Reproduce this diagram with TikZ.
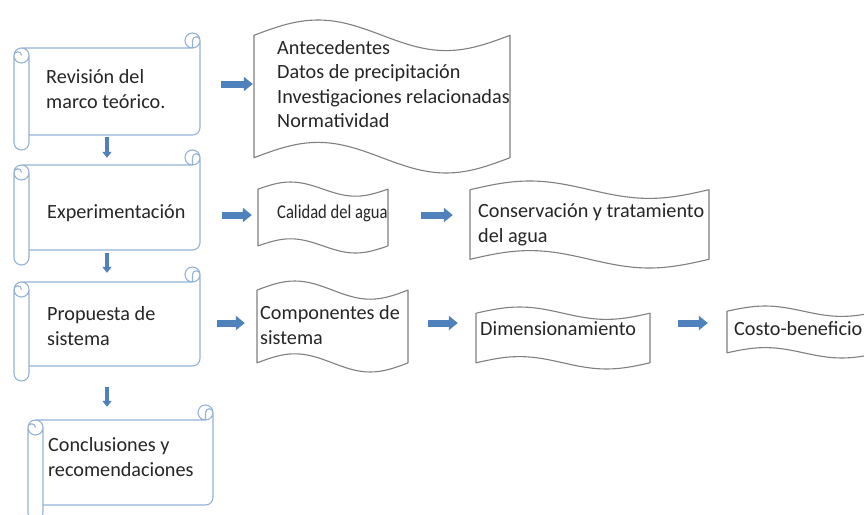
\documentclass[tikz,border=0pt]{standalone}
\usepackage{fontspec}
\setmainfont{Carlito}
\usetikzlibrary{arrows.meta}
\definecolor{arrowblue}{HTML}{4F81BD}
\definecolor{scrollblue}{HTML}{95B3D7}
\definecolor{tapegray}{HTML}{808080}
\definecolor{txtcol}{HTML}{262626}
\tikzset{
  shapebox/.style={draw=none, rectangle, inner sep=0pt},
  scrollline/.style={draw=scrollblue, line width=1.1pt, line join=round},
  tapeline/.style={draw=tapegray, line width=1.1pt, fill=white, line join=round},
  txtnode/.style={anchor=west, inner sep=0pt, align=left, text=txtcol, font=\fontsize{20.2}{24.5}\selectfont},
  rarrow/.style={draw=arrowblue, line width=7pt, -{Triangle[length=9pt,width=14pt]}},
  darrow/.style={draw=arrowblue, line width=3.5pt, -{Triangle[length=6pt,width=9pt]}}
}
% horizontal scroll: L T R B name
\newcommand\drawscroll[5]{%
  \pgfmathsetmacro\scL{#1}\pgfmathsetmacro\scT{#2}%
  \pgfmathsetmacro\scR{#3}\pgfmathsetmacro\scB{#4}%
  \def\scA{15}\def\scC{7.5}%
  \node[shapebox, minimum width={\scR-\scL}, minimum height={\scB-\scT}] (#5) at ({(\scL+\scR)/2},{(\scT+\scB)/2}) {};
  \draw[scrollline]
    ({\scL+\scC},{\scT+\scA}) -- ({\scR-\scC},{\scT+\scA})
    ({\scR},{\scT+\scC}) -- ({\scR},{\scB-\scA-\scC}) arc[start angle=0, end angle=-90, radius=7.5pt] -- ({\scL+\scA},{\scB-\scA})
    ({\scL},{\scT+\scA+\scC}) -- ({\scL},{\scB-\scC}) arc[start angle=180, end angle=360, radius=7.5pt] -- ({\scL+\scA},{\scT+\scA+\scC})
    ({\scL+\scC},{\scT+\scA+\scC}) circle[radius=7.5pt]
    ({\scL+\scC},{\scT+\scA+\scC}) arc[start angle=0, end angle=180, radius=3.75pt]
    ({\scR-\scC},{\scT+\scC}) circle[radius=7.5pt]
    ({\scR-\scC},{\scT+\scA}) -- ({\scR-\scC},{\scT+\scC}) arc[start angle=180, end angle=0, radius=3.75pt];
}
% punched tape: L T R B name
\newcommand\drawtape[5]{%
  \pgfmathsetmacro\tpL{#1}\pgfmathsetmacro\tpT{#2}%
  \pgfmathsetmacro\tpR{#3}\pgfmathsetmacro\tpB{#4}%
  \pgfmathsetmacro\tpD{(\tpB-\tpT)/10}\pgfmathsetmacro\tpQ{(\tpR-\tpL)/4}%
  \node[shapebox, minimum width={\tpR-\tpL}, minimum height={\tpB-\tpT}] (#5) at ({(\tpL+\tpR)/2},{(\tpT+\tpB)/2}) {};
  \draw[tapeline]
    ({\tpL},{\tpT+\tpD}) sin ({\tpL+\tpQ},{\tpT}) cos ({\tpL+2*\tpQ},{\tpT+\tpD})
    sin ({\tpL+3*\tpQ},{\tpT+2*\tpD}) cos ({\tpR},{\tpT+\tpD})
    -- ({\tpR},{\tpB-\tpD}) sin ({\tpR-\tpQ},{\tpB}) cos ({\tpR-2*\tpQ},{\tpB-\tpD})
    sin ({\tpR-3*\tpQ},{\tpB-2*\tpD}) cos ({\tpL},{\tpB-\tpD}) -- cycle;
}
\begin{document}
\begin{tikzpicture}[x=1pt,y=-1pt]
\fill[white] (0,0) rectangle (864,514);
\useasboundingbox (0,0) rectangle (864,514);

% scrolls
\drawscroll{14}{33}{200}{150}{s1}
\drawscroll{14}{150}{200}{265}{s2}
\drawscroll{14}{267}{200}{381}{s3}
\drawscroll{28}{405}{213}{520}{s4}

% tapes
\drawtape{254}{20}{510}{173}{w1}
\drawtape{258}{182}{388}{253}{w2}
\drawtape{470}{181}{709}{268}{w3}
\drawtape{257}{281}{408}{372}{w4}
\drawtape{476}{307}{650}{369}{w5}
\drawtape{727}{306}{880}{358}{w6}

% texts
\node[txtnode] (t1) at (46,89) {Revisión del\\marco teórico.};
\node[txtnode] (t2) at (47,213) {Experimentación};
\node[txtnode] (t3) at (47,326) {Propuesta de\\sistema};
\node[txtnode] (t4) at (48,457) {Conclusiones y\\recomendaciones};
\node[txtnode] (u1) at (277,84) {Antecedentes\\Datos de precipitación\\Investigaciones relacionadas\\Normatividad};
\node[txtnode, font=\fontsize{19.5}{24.5}\selectfont] (u2) at (277,213) {\scalebox{0.85}[1]{Calidad del agua}};
\node[txtnode] (u3) at (478,225) {Conservación y tratamiento\\del agua};
\node[txtnode] (u4) at (260,325) {Componentes de\\sistema};
\node[txtnode] (u5) at (480,329) {Dimensionamiento};
\node[txtnode] (u6) at (734,329) {Costo-beneficio};

% right arrows
\draw[rarrow] ([shift={(21,-7.5)}]s1.east) -- ([shift={(-1,-12.5)}]w1.west);
\draw[rarrow] ([shift={(22,7.5)}]s2.east) -- ([shift={(-6,-2.5)}]w2.west);
\draw[rarrow] ([shift={(33,-2.5)}]w2.east) -- ([shift={(-17,-9.5)}]w3.west);
\draw[rarrow] ([shift={(17,-1)}]s3.east) -- ([shift={(-12,-3.5)}]w4.west);
\draw[rarrow] ([shift={(20,-3.5)}]w4.east) -- ([shift={(-18,-15)}]w5.west);
\draw[rarrow] ([shift={(28,-15)}]w5.east) -- ([shift={(-19,-9)}]w6.west);

% down arrows
\draw[darrow] ([yshift=13pt]s1.south) -- ([yshift=-8pt]s2.north);
\draw[darrow] ([yshift=12pt]s2.south) -- ([yshift=-6pt]s3.north);
\draw[darrow] ([yshift=-6pt]s3.south) -- ([yshift=-2pt]s3.south |- s4.north);
\end{tikzpicture}
\end{document}
